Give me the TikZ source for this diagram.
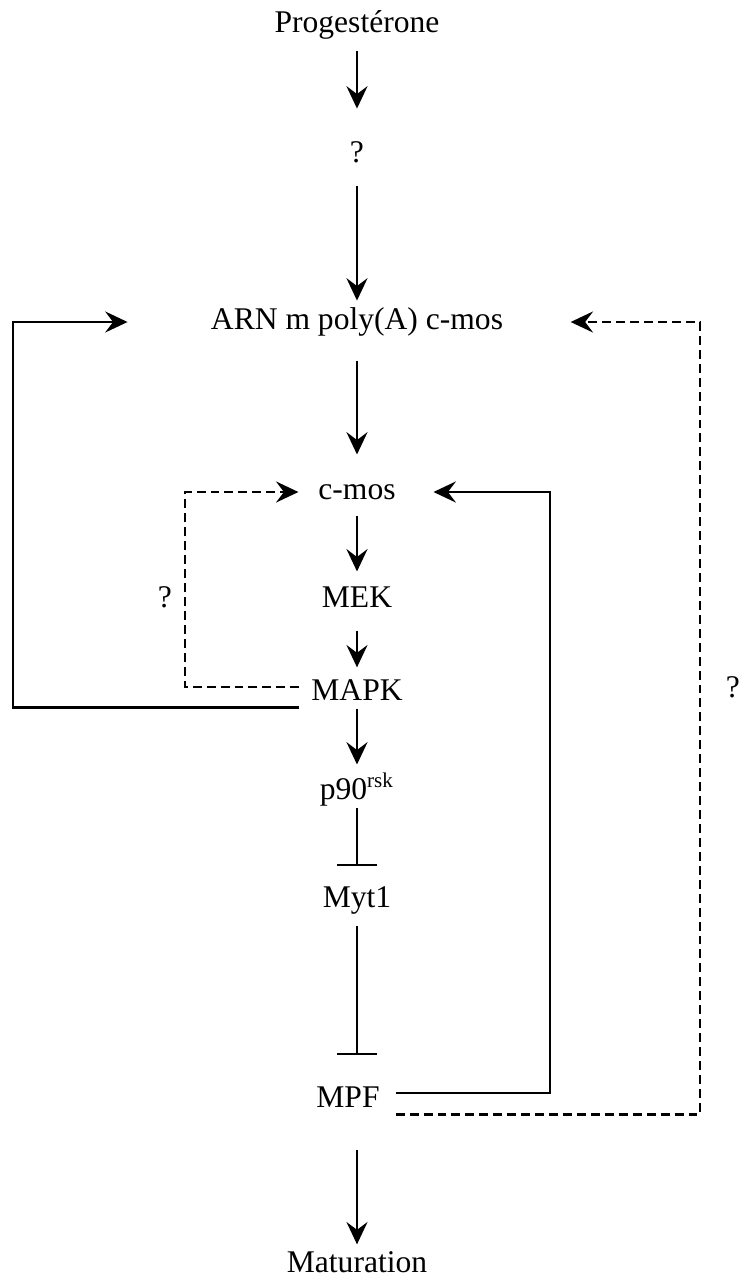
\documentclass[tikz,border=0pt]{standalone}
\usepackage{fontspec}
\setmainfont{Liberation Serif}
\usetikzlibrary{arrows.meta}

\begin{document}
\begin{tikzpicture}[x=0.38pt,y=-0.38pt,
  every node/.style={font=\fontsize{12}{14}\selectfont,inner sep=0pt,text height=8pt,text depth=2.5pt},
  act/.style={line width=0.9pt,-{Stealth[length=8.5pt,width=8pt,inset=3pt]}},
  inh/.style={line width=0.9pt,-{Bar[width=15pt]}},
  dashlink/.style={dash pattern=on 3.4pt off 1.9pt}]
\useasboundingbox (0,0) rectangle (745,1280);

\node (prog) at (357,25) {Progestérone};
\node (q1) at (357,155) {?};
\node (arn) at (357,322) {ARN m poly(A) c-mos};
\node (cmos) at (357,492) {c-mos};
\node (mek) at (357,600) {MEK};
\node (mapk) at (357,693) {MAPK};
\node (p90) at (357,792) {p90\textsuperscript{rsk}};
\node (myt1) at (357,900) {Myt1};
\node (mpf) at (348,1100) {MPF};
\node (mat) at (357,1265) {Maturation};
\node (qL) at (165,600) {?};
\node (qR) at (733,690) {?};

\coordinate (railL) at (13,322);
\coordinate (railQ) at (185,492);
\coordinate (railR) at (550,492);
\coordinate (railD) at (700,322);

\draw[act,shorten <=4.3pt,shorten >=12.2pt] (prog) -- (q1);
\draw[act,shorten <=6.2pt,shorten >=2.7pt] (q1) -- (arn);
\draw[act,shorten <=9.2pt,shorten >=8.8pt] (arn) -- (cmos);
\draw[act,shorten <=3.5pt,shorten >=5.4pt] (cmos) -- (mek);
\draw[act,shorten <=6.2pt,shorten >=4.3pt] (mek) -- (mapk);
\draw[act,shorten <=0.5pt,shorten >=5pt] (mapk) -- (p90);
\draw[inh,shorten <=0.8pt,shorten >=7.3pt] (p90) -- (myt1);
\draw[inh,shorten <=4.3pt,shorten >=11.5pt] (myt1) -- (myt1 |- mpf.north);
\draw[act,shorten <=13.4pt,shorten >=2.4pt] (mpf.south -| mat) -- (mat);

\draw[act,shorten <=4.4pt,shorten >=31.5pt] (mapk.south west) -| (railL) -- (arn.west);
\draw[act,dashlink,shorten <=4.4pt,shorten >=7.4pt] ([yshift=2.3pt]mapk.west) -| (railQ) -- (cmos.west);
\draw[act,shorten <=5.9pt,shorten >=14.2pt] ([yshift=2.7pt]mpf.east) -| (railR) -- (cmos.east);
\draw[act,dashlink,shorten <=5.9pt,shorten >=25.5pt] (mpf.south east) -| (railD) -- (arn.east);
\end{tikzpicture}
\end{document}
